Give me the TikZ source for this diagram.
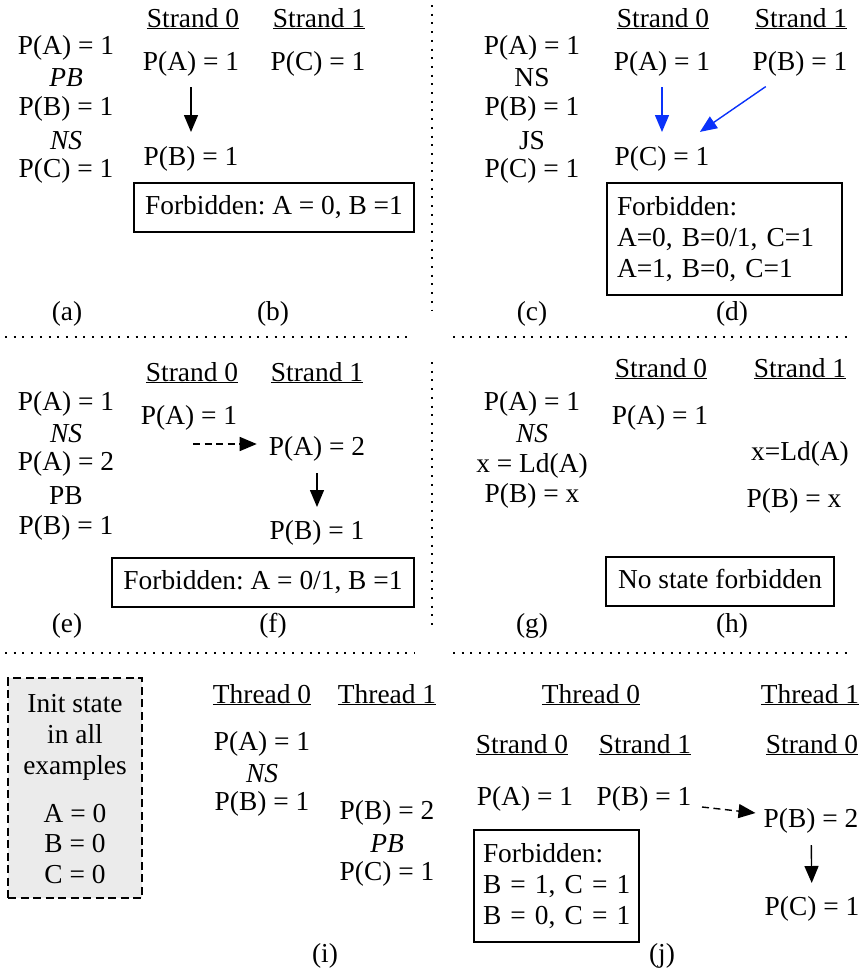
\documentclass[tikz,border=0pt]{standalone}
\usepackage{fontspec}
\setmainfont{Liberation Serif}[ItalicFont={Liberation Serif Italic}]
\usetikzlibrary{arrows.meta}
\definecolor{arrblue}{RGB}{10,50,250}
\definecolor{initgray}{RGB}{235,235,235}
\newcommand\mainsz{\fontsize{27.4}{31}\selectfont\frenchspacing}
\tikzset{
  txt/.style={inner sep=0pt, text height=19pt, text depth=5pt},
  itx/.style={txt, font=\mainsz\itshape},
  boxone/.style={draw, line width=1.4pt, inner sep=0pt, text height=19pt, text depth=5pt},
  boxmulti/.style={draw, line width=1.4pt, inner ysep=0pt, align=left},
  arr/.style={line width=1.4pt, -{Triangle[length=17pt,width=14pt]}},
  darr/.style={arr, dash pattern=on 7pt off 4.5pt},
  sepline/.style={line width=1.8pt, dash pattern=on 2pt off 6.7pt},
  initbox/.style={draw, line width=1.8pt, dash pattern=on 8pt off 4.5pt, fill=initgray, inner sep=0pt},
}
\begin{document}
\begin{tikzpicture}[x=1pt, y=-1pt, font=\mainsz]
\useasboundingbox (0,0) rectangle (861,972);

% separators
\draw[sepline] (432,5) -- (432,310);
\draw[sepline] (5,337) -- (407,337);
\draw[sepline] (453,337) -- (853,337);
\draw[sepline] (432,362) -- (432,628);
\draw[sepline] (5,653) -- (415,653);
\draw[sepline] (453,653) -- (853,653);

% (a)
\node[txt] (aA) at (66,47) {P(A) = 1};
\node[itx] (aPB) at (66,79) {PB};
\node[txt] (aB) at (66,108) {P(B) = 1};
\node[itx] (aNS) at (66,142) {NS};
\node[txt] (aC) at (66,170) {P(C) = 1};
\node[txt] (la) at (67,313) {(a)};

% (b)
\node[txt] (bh0) at (193,20) {\underline{Strand 0}};
\node[txt] (bh1) at (319,20) {\underline{Strand 1}};
\node[txt] (bA) at (191,63) {P(A) = 1};
\node[txt] (bC) at (318,63) {P(C) = 1};
\node[txt] (bB) at (191,158) {P(B) = 1};
\node[boxone, minimum width=280pt, minimum height=49pt] (bF) at (274,207.5) {Forbidden: A = 0, B =1};
\node[txt] (lb) at (273,313) {(b)};
\draw[arr, shorten <=24pt, shorten >=26pt] (bA.center) -- (bB.center);

% (c)
\node[txt] (cA) at (532,47) {P(A) = 1};
\node[txt] (cNS) at (532,79) {NS};
\node[txt] (cB) at (532,108) {P(B) = 1};
\node[txt] (cJS) at (532,142) {JS};
\node[txt] (cC) at (532,170) {P(C) = 1};
\node[txt] (lc) at (532,313) {(c)};

% (d)
\node[txt] (dh0) at (663,20) {\underline{Strand 0}};
\node[txt] (dh1) at (801,20) {\underline{Strand 1}};
\node[txt] (dA) at (662,63) {P(A) = 1};
\node[txt] (dB) at (800,63) {P(B) = 1};
\node[txt] (dC) at (662,158) {P(C) = 1};
\node[boxmulti, minimum width=235pt, minimum height=112pt, text width=215pt, inner xsep=10pt] (dF) at (724.5,239) {\mbox{Forbidden:}\\\mbox{A=0, B=0/1, C=1}\\\mbox{A=1, B=0, C=1}};
\node[txt] (ld) at (732,313) {(d)};
\draw[arr, arrblue, shorten <=24pt, shorten >=26pt] (dA.center) -- (dC.center);
\draw[arr, arrblue, shorten <=41.6pt, shorten >=46pt] (dB.center) -- (dC.center);

% (e)
\node[txt] (eA) at (66,403) {P(A) = 1};
\node[itx] (eNS) at (66,435) {NS};
\node[txt] (eA2) at (66,463) {P(A) = 2};
\node[txt] (ePB) at (66,497) {PB};
\node[txt] (eB) at (66,527) {P(B) = 1};
\node[txt] (le) at (67,625) {(e)};

% (f)
\node[txt] (fh0) at (192,374) {\underline{Strand 0}};
\node[txt] (fh1) at (317,374) {\underline{Strand 1}};
\node[txt] (fA) at (189,417) {P(A) = 1};
\node[txt] (fA2) at (317,448) {P(A) = 2};
\node[txt] (fB) at (317,532) {P(B) = 1};
\node[boxone, minimum width=302pt, minimum height=49pt] (fF) at (263,582.5) {Forbidden: A = 0/1, B =1};
\node[txt] (lf) at (273,625) {(f)};
\draw[darr] ([xshift=4pt,yshift=-27pt]fA.center) -- ([xshift=-12pt,yshift=4pt]fA2.west);
\draw[arr, shorten <=25pt, shorten >=25pt] (fA2.center) -- (fB.center);

% (g)
\node[txt] (gA) at (532,403) {P(A) = 1};
\node[itx] (gNS) at (532,435) {NS};
\node[txt] (gx) at (532,465) {x = Ld(A)};
\node[txt] (gB) at (532,495) {P(B) = x};
\node[txt] (lg) at (532,625) {(g)};

% (h)
\node[txt] (hh0) at (661,370) {\underline{Strand 0}};
\node[txt] (hh1) at (800,370) {\underline{Strand 1}};
\node[txt] (hA) at (660,417) {P(A) = 1};
\node[txt] (hx) at (800,453) {x=Ld(A)};
\node[txt] (hB) at (794,500) {P(B) = x};
\node[boxone, minimum width=228pt, minimum height=49pt] (hF) at (720,581.5) {No state forbidden};
\node[txt] (lh) at (732,625) {(h)};

% init box
\node[initbox, minimum width=134pt, minimum height=220pt] (iI) at (75,788) {};
\node[txt] (i1) at (75,705) {Init state};
\node[txt] (i2) at (75,736) {in all};
\node[txt] (i3) at (75,767) {examples};
\node[txt] (i4) at (75,815) {A = 0};
\node[txt] (i5) at (75,845) {B = 0};
\node[txt] (i6) at (75,876) {C = 0};

% (i)
\node[txt] (ih0) at (262,696) {\underline{Thread 0}};
\node[txt] (ih1) at (387,696) {\underline{Thread 1}};
\node[txt] (iA) at (262,743) {P(A) = 1};
\node[itx] (iNS) at (262,775) {NS};
\node[txt] (iB) at (262,803) {P(B) = 1};
\node[txt] (iB2) at (387,812) {P(B) = 2};
\node[itx] (iPB) at (387,845) {PB};
\node[txt] (iC) at (387,873) {P(C) = 1};
\node[txt] (li) at (325,955) {(i)};

% (j)
\node[txt] (jh0) at (591,696) {\underline{Thread 0}};
\node[txt] (jh1) at (810,696) {\underline{Thread 1}};
\node[txt] (js0) at (522,746) {\underline{Strand 0}};
\node[txt] (js1) at (645,746) {\underline{Strand 1}};
\node[txt] (js2) at (812,746) {\underline{Strand 0}};
\node[txt] (jA) at (525,798) {P(A) = 1};
\node[txt] (jB) at (644,798) {P(B) = 1};
\node[txt] (jB2) at (811,820) {P(B) = 2};
\node[txt] (jC) at (812,908) {P(C) = 1};
\node[boxmulti, minimum width=165pt, minimum height=112pt, text width=147pt, inner xsep=9pt] (jF) at (556.5,886) {\mbox{Forbidden:}\\\mbox{B = 1, C = 1}\\\mbox{B = 0, C = 1}};
\node[txt] (lj) at (662,955) {(j)};
\draw[darr] ([xshift=10.5pt,yshift=-9pt]jB.east) -- ([xshift=-8pt,yshift=7pt]jB2.west);
\draw[arr, shorten <=25pt, shorten >=25pt] (jB2.center) -- (jC.center);
\end{tikzpicture}
\end{document}
